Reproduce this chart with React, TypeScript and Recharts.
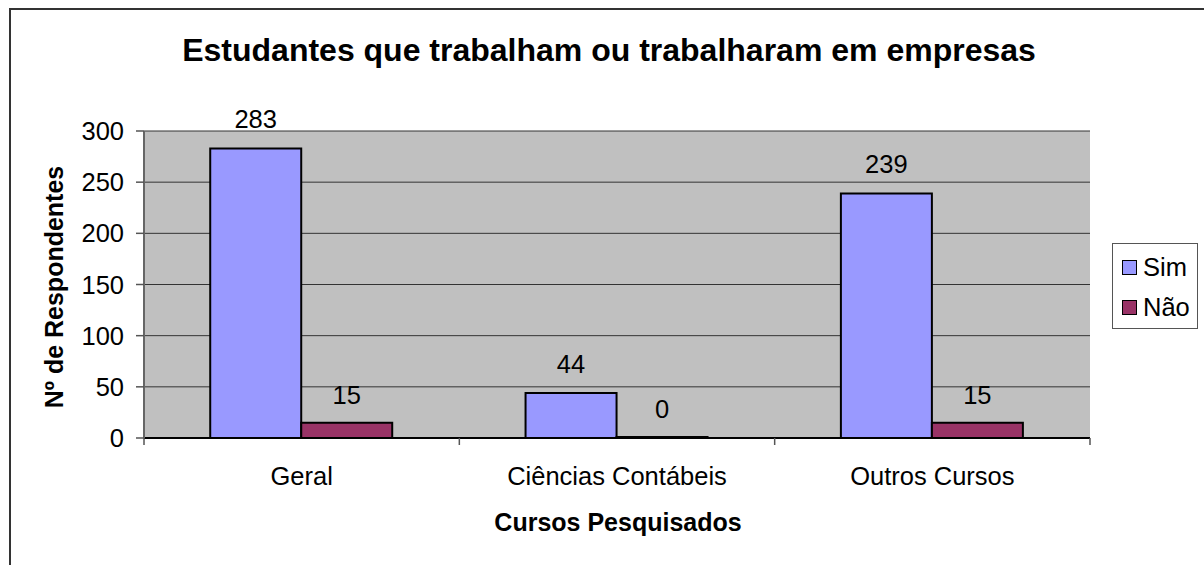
import React from "react";
import {
  BarChart,
  Bar,
  XAxis,
  YAxis,
  CartesianGrid,
  LabelList,
  Legend,
} from "recharts";

const categorias = ["Geral", "Ciências Contábeis", "Outros Cursos"];
const sim = [283, 44, 239];
const nao = [15, 0, 15];
const yTicks = [0, 50, 100, 150, 200, 250, 300];

const data = categorias.map((c, i) => ({ curso: c, Sim: sim[i], Não: nao[i] }));

const FONT = "'Liberation Sans', Arial, sans-serif";
const FS = 25.5;
const COR_SIM = "#9999ff";
const COR_NAO = "#993366";

// rótulo do eixo x + marcas nos limites das categorias
function CursoTick(props: any) {
  const { x, y, payload, width, visibleTicksCount, index } = props;
  const meia = width / visibleTicksCount / 2;
  const axisY = y - 29;
  return (
    <g>
      <line x1={x - meia} x2={x - meia} y1={axisY} y2={axisY + 7} stroke="#555" strokeWidth={1.5} />
      {index === visibleTicksCount - 1 && (
        <line x1={x + meia} x2={x + meia} y1={axisY} y2={axisY + 7} stroke="#555" strokeWidth={1.5} />
      )}
      <text x={x} y={y} dy="0.71em" textAnchor="middle" fontSize={FS} fontFamily={FONT} fill="#000">
        {payload.value}
      </text>
    </g>
  );
}

function Legenda() {
  const itens = [
    { nome: "Sim", cor: COR_SIM },
    { nome: "Não", cor: COR_NAO },
  ];
  return (
    <div
      style={{
        width: 84,
        height: 84,
        border: "1px solid #555",
        background: "#fff",
        position: "relative",
        fontFamily: FONT,
      }}
    >
      {itens.map((it, i) => (
        <div key={it.nome} style={{ position: "absolute", left: 9, top: 15 + i * 40, height: 16, display: "flex", alignItems: "center" }}>
          <span style={{ display: "inline-block", width: 13, height: 13, background: it.cor, border: "1.5px solid #000" }} />
          <span style={{ fontSize: FS, marginLeft: 6, lineHeight: "16px", color: "#000" }}>{it.nome}</span>
        </div>
      ))}
    </div>
  );
}

export default function App() {
  return (
    <div style={{ position: "absolute", left: 0, top: 0, width: 1204, height: 565, overflow: "hidden", background: "#fff" }}>
      <BarChart
        width={1204}
        height={565}
        data={data}
        margin={{ top: 131, right: 114, bottom: 87, left: 84 }}
        barGap={0}
        barCategoryGap="21%"
      >
        <CartesianGrid vertical={false} stroke="#333" fill="#c0c0c0" />
        <XAxis
          dataKey="curso"
          height={40}
          tickSize={0}
          tickMargin={29}
          tick={<CursoTick />}
          axisLine={{ stroke: "#000", strokeWidth: 2 }}
          interval={0}
        />
        <YAxis
          domain={[0, 300]}
          ticks={yTicks}
          width={60}
          tickSize={8}
          tickMargin={12}
          axisLine={{ stroke: "#666", strokeWidth: 2 }}
          tickLine={{ stroke: "#555", strokeWidth: 1.5 }}
          tick={{ fontSize: FS, fontFamily: FONT, fill: "#000" }}
        />
        <YAxis
          yAxisId="borda"
          orientation="right"
          domain={[0, 300]}
          width={0}
          tick={false}
          tickLine={false}
          axisLine={{ stroke: "#808080", strokeWidth: 2 }}
        />
        <Legend
          layout="horizontal"
          verticalAlign="middle"
          align="center"
          wrapperStyle={{ left: 1112, top: 243, width: 86, height: 86 }}
          content={<Legenda />}
        />
        <Bar dataKey="Sim" fill={COR_SIM} stroke="#000" strokeWidth={2} isAnimationActive={false}>
          <LabelList dataKey="Sim" position="top" offset={20} fontSize={FS} fontFamily={FONT} fill="#000" />
        </Bar>
        <Bar dataKey="Não" fill={COR_NAO} stroke="#000" strokeWidth={2} minPointSize={1} isAnimationActive={false}>
          <LabelList dataKey="Não" position="top" offset={19} fontSize={FS} fontFamily={FONT} fill="#000" />
        </Bar>
      </BarChart>
      <svg width={1204} height={565} style={{ position: "absolute", left: 0, top: 0, pointerEvents: "none" }}>
        <path d="M10,570 L10,9 L1210,9" fill="none" stroke="#333" strokeWidth={2} />
        <text x={609} y={61} textAnchor="middle" fontSize={32} fontWeight="bold" fontFamily={FONT} fill="#000">
          Estudantes que trabalham ou trabalharam em empresas
        </text>
        <text transform="translate(54,287) rotate(-90)" y={9} textAnchor="middle" fontSize={25} fontWeight="bold" fontFamily={FONT} fill="#000">
          Nº de Respondentes
        </text>
        <text x={618} y={531} textAnchor="middle" fontSize={25} fontWeight="bold" fontFamily={FONT} fill="#000">
          Cursos Pesquisados
        </text>
      </svg>
    </div>
  );
}
